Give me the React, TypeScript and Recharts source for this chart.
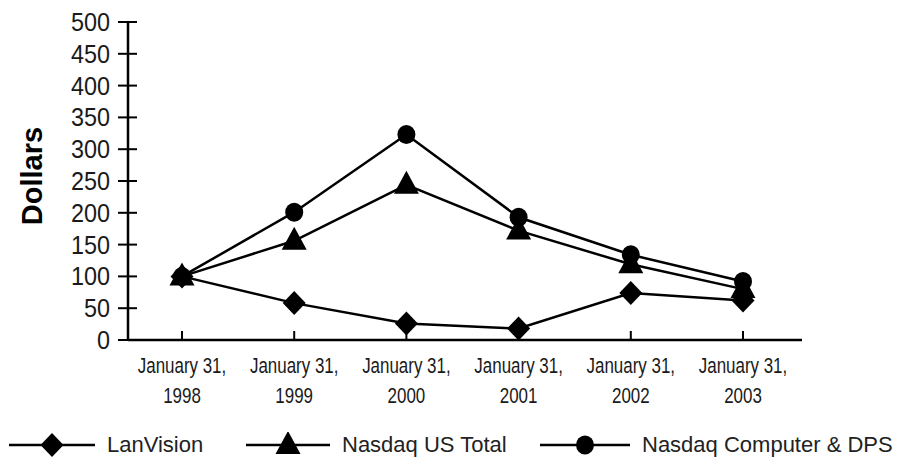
import { LineChart, Line, XAxis, YAxis } from 'recharts';

const years = ['1998', '1999', '2000', '2001', '2002', '2003'];
const lanVision = [100, 58, 26, 18, 74, 62];
const nasdaqUsTotal = [100, 156, 244, 172, 119, 80];
const nasdaqComputer = [100, 201, 323, 193, 134, 92];
const yTicks = [0, 50, 100, 150, 200, 250, 300, 350, 400, 450, 500];

const data = years.map((year, i) => ({
  year,
  lanVision: lanVision[i],
  usTotal: nasdaqUsTotal[i],
  computer: nasdaqComputer[i],
}));

const SANS = '"Liberation Sans", Arial, sans-serif';

const Diamond = ({ cx, cy }: { cx: number; cy: number }) => (
  <path d={`M${cx},${cy - 12}L${cx + 11.5},${cy}L${cx},${cy + 12}L${cx - 11.5},${cy}Z`} fill="#000" />
);

const Triangle = ({ cx, cy }: { cx: number; cy: number }) => (
  <path d={`M${cx},${cy - 14}L${cx + 12.5},${cy + 9}L${cx - 12.5},${cy + 9}Z`} fill="#000" />
);

const Dot = ({ cx, cy }: { cx: number; cy: number }) => <ellipse cx={cx} cy={cy} rx={9} ry={9.5} fill="#000" />;

// condensed look: plain sans squeezed horizontally
const XTick = ({ x, y, payload }: any) => (
  <g>
    <line x1={x} y1={y - 9} x2={x} y2={y} stroke="#000" strokeWidth={2} />
    <g transform={`translate(${x}, ${y}) scale(0.77, 1)`}>
      <text x={0} y={33} textAnchor="middle" fontSize={22} fill="#1a1a1a" fontFamily={SANS}>
        January 31,
      </text>
      <text x={0} y={63} textAnchor="middle" fontSize={22} fill="#1a1a1a" fontFamily={SANS}>
        {payload.value}
      </text>
    </g>
  </g>
);

const YTick = ({ x, y, payload }: any) => (
  <g>
    <line x1={x - 10} y1={y} x2={x + 9} y2={y} stroke="#000" strokeWidth={2} />
    <g transform={`translate(${x - 18}, ${y}) scale(0.9, 1)`}>
      <text x={0} y={0} textAnchor="end" dominantBaseline="central" fontSize={26} fill="#1a1a1a" fontFamily={SANS}>
        {payload.value}
      </text>
    </g>
  </g>
);

const YLabel = ({ viewBox }: any) => {
  const cx = viewBox.x + 32;
  const cy = viewBox.y + viewBox.height / 2 - 5;
  return (
    <text
      x={cx}
      y={cy}
      transform={`rotate(-90, ${cx}, ${cy})`}
      textAnchor="middle"
      dominantBaseline="central"
      fontSize={29}
      fontWeight="bold"
      fill="#000"
      fontFamily={SANS}
    >
      Dollars
    </text>
  );
};

const legendItems = [
  { name: 'LanVision', Marker: Diamond, left: 9, lineW: 86 },
  { name: 'Nasdaq US Total', Marker: Triangle, left: 246, lineW: 84 },
  { name: 'Nasdaq Computer & DPS', Marker: Dot, left: 540, lineW: 90 },
];

export default function App() {
  return (
    <div style={{ position: 'absolute', left: 0, top: 0, width: 902, height: 461, background: '#fff' }}>
      <LineChart width={902} height={410} data={data} margin={{ top: 22, right: 100, bottom: 0, left: 0 }}>
        <XAxis
          dataKey="year"
          height={70}
          padding={{ left: 54, right: 59 }}
          axisLine={{ stroke: '#000', strokeWidth: 2.5 }}
          tickLine={false}
          tickSize={0}
          tickMargin={0}
          tick={<XTick />}
          interval={0}
        />
        <XAxis
          xAxisId="top"
          dataKey="year"
          orientation="top"
          height={0}
          axisLine={{ stroke: '#000', strokeWidth: 2.5 }}
          tick={false}
          tickLine={false}
        />
        <YAxis
          domain={[0, 500]}
          ticks={yTicks}
          width={128}
          axisLine={{ stroke: '#000', strokeWidth: 2.5 }}
          tickLine={false}
          tickSize={0}
          tickMargin={0}
          tick={<YTick />}
          interval={0}
          label={<YLabel />}
        />
        <YAxis
          yAxisId="right"
          orientation="right"
          domain={[0, 500]}
          width={0}
          axisLine={{ stroke: '#000', strokeWidth: 2.5 }}
          tick={false}
          tickLine={false}
        />
        <Line
          dataKey="lanVision"
          stroke="#000"
          strokeWidth={2.5}
          dot={(p: any) => <Diamond key={`d${p.index}`} cx={p.cx} cy={p.cy} />}
          isAnimationActive={false}
        />
        <Line
          dataKey="usTotal"
          stroke="#000"
          strokeWidth={2.5}
          dot={(p: any) => <Triangle key={`t${p.index}`} cx={p.cx} cy={p.cy} />}
          isAnimationActive={false}
        />
        <Line
          dataKey="computer"
          stroke="#000"
          strokeWidth={2.5}
          dot={(p: any) => <Dot key={`c${p.index}`} cx={p.cx} cy={p.cy} />}
          isAnimationActive={false}
        />
      </LineChart>
      <div style={{ position: 'absolute', left: 0, top: 410, width: 902, height: 51 }}>
        {legendItems.map(({ name, Marker, left, lineW }) => (
          <div
            key={name}
            style={{ position: 'absolute', left, top: 22, height: 26, display: 'flex', alignItems: 'center' }}
          >
            <svg width={lineW} height={26} style={{ display: 'block' }}>
              <line x1={0} y1={13} x2={lineW} y2={13} stroke="#000" strokeWidth={2.5} />
              <Marker cx={lineW / 2} cy={13} />
            </svg>
            <span
              style={{ marginLeft: 12, fontSize: 22, fontFamily: SANS, color: '#222', whiteSpace: 'nowrap', lineHeight: '26px' }}
            >
              {name}
            </span>
          </div>
        ))}
      </div>
    </div>
  );
}
